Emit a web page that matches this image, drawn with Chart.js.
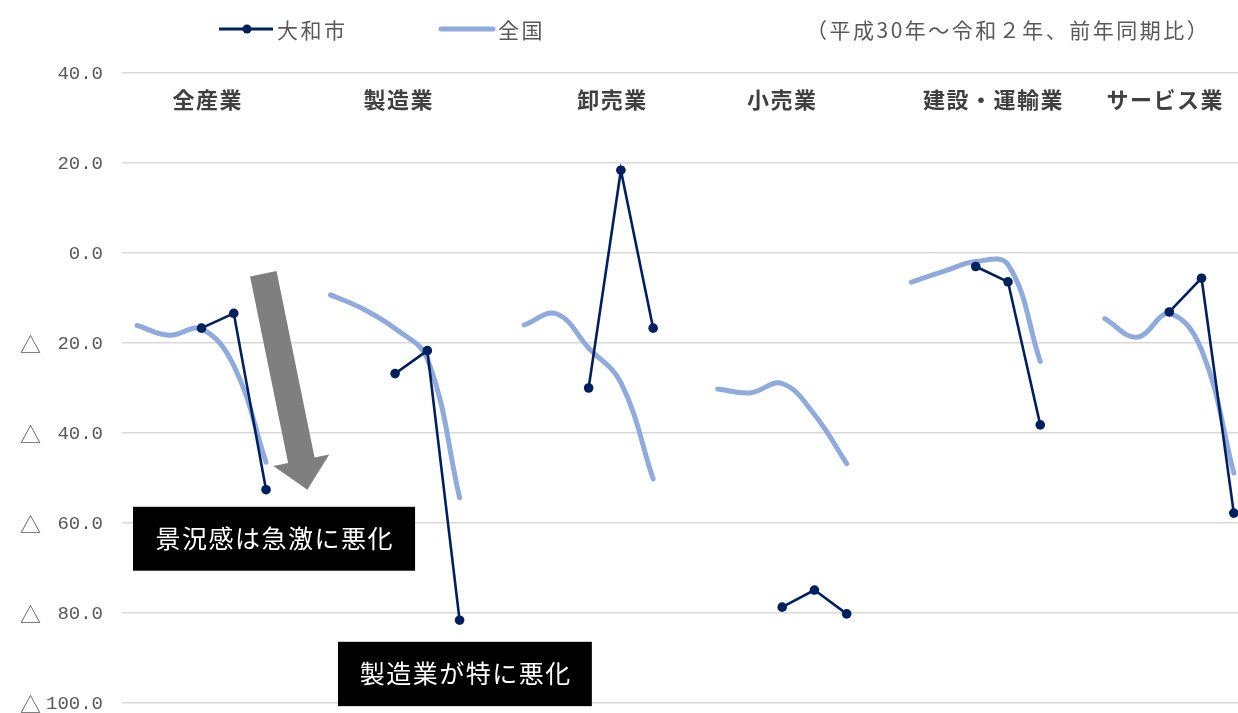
<!DOCTYPE html>
<html>
<head>
<meta charset="utf-8">
<script src="https://cdn.jsdelivr.net/npm/chart.js@4"></script>
<style>
html,body{margin:0;padding:0;background:#fff;}
canvas{display:block;}
</style>
</head>
<body>
<canvas id="c" width="1238" height="713"></canvas>
<script>
// ---- data ----
const groups = ['全産業', '製造業', '卸売業', '小売業', '建設・運輸業', 'サービス業'];
const seriesNames = ['大和市', '全国'];
// 全国: 5 periods per industry
const nationalValues = [
  [-16.1, -18.3, -16.9, -25.0, -46.5],
  [-9.3, -12.4, -16.8, -23.5, -54.4],
  [-16.0, -13.5, -21.1, -28.8, -50.2],
  [-30.2, -31.1, -29.0, -35.9, -46.8],
  [-6.5, -4.1, -1.9, -2.6, -24.1],
  [-14.6, -18.7, -13.5, -21.5, -48.9]
];
// 大和市: last 3 periods per industry
const yamatoValues = [
  [-16.7, -13.4, -52.6],
  [-26.8, -21.7, -81.6],
  [-30.0, 18.4, -16.7],
  [-78.7, -74.9, -80.2],
  [-3.0, -6.4, -38.2],
  [-13.1, -5.6, -57.8]
];
const yTickValues = [40, 20, 0, -20, -40, -60, -80, -100];
const yTickLabels = ['40.0', '20.0', '0.0', '△ 20.0', '△ 40.0', '△ 60.0', '△ 80.0', '△ 100.0'];
const noteText = '（平成30年～令和２年、前年同期比）';
const callout1 = '景況感は急激に悪化';
const callout2 = '製造業が特に悪化';

// ---- build datasets ----
const PER = 5, GAP = 1;
const natPts = [], yamPts = [];
groups.forEach((g, gi) => {
  const base = gi * (PER + GAP);
  nationalValues[gi].forEach((v, i) => natPts.push({x: base + i, y: v}));
  yamatoValues[gi].forEach((v, i) => yamPts.push({x: base + (PER - yamatoValues[gi].length) + i, y: v}));
  natPts.push({x: base + PER, y: null});
  yamPts.push({x: base + PER, y: null});
});

const NAVY = '#002060', LIGHT = '#8FAADC', TEXT = '#595959';
const CJK = "'Noto Sans CJK JP', 'Noto Sans', sans-serif";
const MONO = "'Liberation Mono', 'DejaVu Sans Mono', monospace";

const groupLabelX = [2.17, 8.09, 14.72, 19.98, 26.53, 31.85];

const annot = {
  id: 'annot',
  beforeDatasetsDraw(chart) {
    const {ctx, scales: {x, y}} = chart;
    // grey arrow
    const S = {x: x.getPixelForValue(3.915), y: y.getPixelForValue(-4.6)};
    const T = {x: x.getPixelForValue(5.28), y: y.getPixelForValue(-52.6)};
    const dx = T.x - S.x, dy = T.y - S.y, L = Math.hypot(dx, dy);
    const u = {x: dx / L, y: dy / L}, n = {x: -u.y, y: u.x};
    const w = 27, hw = 57, hl = 30;
    const B = {x: T.x - u.x * hl, y: T.y - u.y * hl};
    ctx.save();
    ctx.fillStyle = '#7F7F7F';
    ctx.beginPath();
    ctx.moveTo(S.x + n.x * w / 2, S.y + n.y * w / 2);
    ctx.lineTo(B.x + n.x * w / 2, B.y + n.y * w / 2);
    ctx.lineTo(B.x + n.x * hw / 2, B.y + n.y * hw / 2);
    ctx.lineTo(T.x, T.y);
    ctx.lineTo(B.x - n.x * hw / 2, B.y - n.y * hw / 2);
    ctx.lineTo(B.x - n.x * w / 2, B.y - n.y * w / 2);
    ctx.lineTo(S.x - n.x * w / 2, S.y - n.y * w / 2);
    ctx.closePath();
    ctx.fill();
    ctx.restore();
  },
  afterDatasetsDraw(chart) {
    const {ctx, scales: {x, y}} = chart;
    const box = (x0, x1, y0, y1, text) => {
      const px0 = x.getPixelForValue(x0), px1 = x.getPixelForValue(x1);
      const py0 = y.getPixelForValue(y0), py1 = y.getPixelForValue(y1);
      ctx.save();
      ctx.fillStyle = '#000';
      ctx.fillRect(px0, py0, px1 - px0, py1 - py0);
      ctx.fillStyle = '#fff';
      ctx.font = '25px ' + CJK;
      ctx.letterSpacing = '1.5px';
      ctx.textAlign = 'center';
      ctx.textBaseline = 'middle';
      ctx.fillText(text, (px0 + px1) / 2 + 0.75, (py0 + py1) / 2);
      ctx.restore();
    };
    box(-0.124, 8.62, -56.4, -70.6, callout1);
    box(6.23, 14.1, -86.4, -100.7, callout2);
  },
  afterDraw(chart) {
    const {ctx, scales: {x, y}} = chart;
    ctx.save();
    // y tick labels (△ marks negatives, as in the source)
    ctx.fillStyle = TEXT;
    ctx.textBaseline = 'middle';
    yTickValues.forEach((v, i) => {
      const py = y.getPixelForValue(v);
      let lbl = yTickLabels[i];
      if (lbl.startsWith('△')) {
        ctx.font = '21px ' + CJK;
        ctx.textAlign = 'left';
        ctx.fillText('△', 20, py + 1);
        lbl = lbl.slice(1).trim();
      }
      ctx.font = '19px ' + MONO;
      ctx.textAlign = 'right';
      ctx.fillText(lbl, y.right - 19, py + 1);
    });
    // group labels
    ctx.fillStyle = '#404040';
    ctx.font = 'bold 22px ' + CJK;
    ctx.letterSpacing = '1.5px';
    ctx.textAlign = 'center';
    groups.forEach((g, i) => ctx.fillText(g, x.getPixelForValue(groupLabelX[i]) + 0.75, 100));
    // legend
    ctx.letterSpacing = '2.5px';
    ctx.font = '21px ' + CJK;
    ctx.textAlign = 'left';
    ctx.lineCap = 'butt';
    ctx.strokeStyle = NAVY; ctx.lineWidth = 3;
    ctx.beginPath(); ctx.moveTo(219, 29); ctx.lineTo(273, 29); ctx.stroke();
    ctx.fillStyle = NAVY;
    ctx.beginPath(); ctx.arc(247, 29, 4.5, 0, Math.PI * 2); ctx.fill();
    ctx.fillStyle = TEXT;
    ctx.fillText(seriesNames[0], 277, 30);
    ctx.strokeStyle = LIGHT; ctx.lineWidth = 5; ctx.lineCap = 'round';
    ctx.beginPath(); ctx.moveTo(441, 29); ctx.lineTo(493, 29); ctx.stroke();
    ctx.fillText(seriesNames[1], 498, 30);
    // note
    ctx.letterSpacing = '2.5px';
    ctx.fillText(noteText, 806, 30);
    ctx.restore();
  }
};

new Chart(document.getElementById('c'), {
  type: 'line',
  data: {
    datasets: [
      {
        label: seriesNames[0], data: yamPts,
        borderColor: NAVY, backgroundColor: NAVY, borderWidth: 2.6,
        pointRadius: 4.8, pointBackgroundColor: NAVY, pointBorderWidth: 0,
        tension: 0, spanGaps: false, fill: false
      },
      {
        label: seriesNames[1], data: natPts,
        borderColor: LIGHT, backgroundColor: LIGHT, borderWidth: 5,
        pointRadius: 0, tension: 0.4, spanGaps: false, fill: false,
        borderCapStyle: 'round', borderJoinStyle: 'round'
      }
    ]
  },
  options: {
    responsive: false,
    animation: false,
    layout: {autoPadding: false, padding: {top: 73, bottom: 10, left: 0, right: 0}},
    plugins: {legend: {display: false}, tooltip: {enabled: false}},
    scales: {
      x: {type: 'linear', min: -0.465, max: 34.13, display: false},
      y: {
        min: -100, max: 40,
        afterBuildTicks(s) { s.ticks = yTickValues.map(v => ({value: v})); },
        afterFit(s) { s.width = 122; },
        ticks: {display: false},
        grid: {color: '#D9D9D9', lineWidth: 1.5, drawTicks: false},
        border: {display: false}
      }
    }
  },
  plugins: [annot]
});
</script>
</body>
</html>
